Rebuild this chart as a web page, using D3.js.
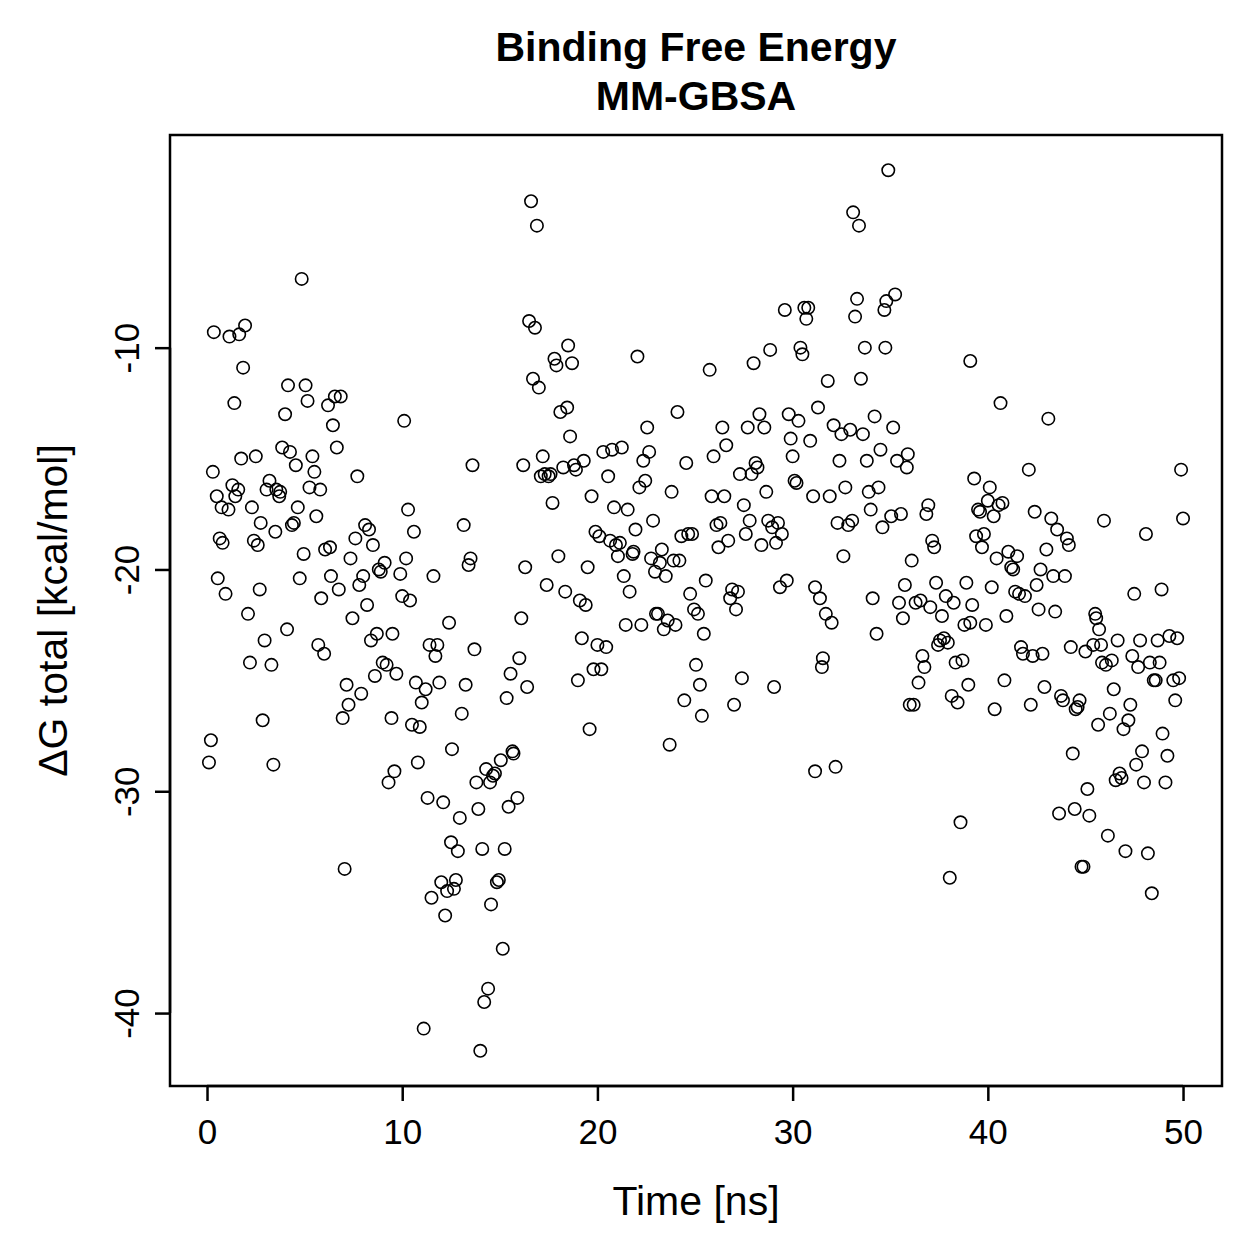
<!DOCTYPE html>
<html lang="en">
<head>
<meta charset="UTF-8">
<title>Binding Free Energy MM-GBSA</title>
<style>
  body { margin: 0; background: #fff; }
  text { font-family: "Liberation Sans", Arial, Helvetica, sans-serif; }
</style>
</head>
<body>
<div id="chart"></div>
<script src="https://d3js.org/d3.v7.min.js"></script>
<script>
// time [ns] and dG total [kcal/mol]
const timeNs = [
  0.1, 0.2, 0.3, 0.35, 0.5, 0.55, 0.65, 0.75, 0.8, 0.95,
  1.1, 1.15, 1.3, 1.4, 1.45, 1.6, 1.65, 1.75, 1.85, 1.95,
  2.1, 2.2, 2.3, 2.4, 2.5, 2.6, 2.7, 2.75, 2.85, 2.95,
  3.05, 3.2, 3.3, 3.4, 3.5, 3.55, 3.7, 3.75, 3.85, 4.0,
  4.1, 4.15, 4.25, 4.35, 4.45, 4.55, 4.65, 4.75, 4.85, 4.95,
  5.05, 5.15, 5.25, 5.4, 5.5, 5.6, 5.7, 5.8, 5.85, 6.0,
  6.05, 6.2, 6.3, 6.35, 6.45, 6.55, 6.65, 6.75, 6.85, 6.95,
  7.05, 7.15, 7.25, 7.35, 7.45, 7.6, 7.7, 7.8, 7.9, 8.0,
  8.1, 8.2, 8.3, 8.4, 8.5, 8.6, 8.7, 8.8, 8.9, 9.0,
  9.1, 9.2, 9.3, 9.45, 9.5, 9.6, 9.7, 9.9, 10.0, 10.1,
  10.2, 10.3, 10.4, 10.5, 10.6, 10.7, 10.8, 10.9, 11.0, 11.1,
  11.2, 11.3, 11.4, 11.5, 11.6, 11.7, 11.8, 11.9, 12.0, 12.1,
  12.2, 12.3, 12.4, 12.5, 12.55, 12.65, 12.75, 12.85, 12.95, 13.05,
  13.15, 13.25, 13.4, 13.5, 13.6, 13.7, 13.8, 13.9, 14.0, 14.1,
  14.2, 14.3, 14.4, 14.5, 14.55, 14.65, 14.75, 14.85, 14.95, 15.05,
  15.15, 15.25, 15.35, 15.45, 15.55, 15.65, 15.7, 15.9, 16.0, 16.1,
  16.2, 16.3, 16.4, 16.5, 16.6, 16.7, 16.8, 16.9, 17.0, 17.1,
  17.2, 17.3, 17.4, 17.5, 17.6, 17.7, 17.8, 17.9, 18.0, 18.1,
  18.25, 18.35, 18.45, 18.5, 18.6, 18.7, 18.8, 18.9, 19.0, 19.1,
  19.2, 19.3, 19.4, 19.5, 19.6, 19.7, 19.8, 19.9, 20.0, 20.1,
  20.2, 20.3, 20.45, 20.55, 20.65, 20.75, 20.85, 20.95, 21.05, 21.15,
  21.25, 21.35, 21.45, 21.55, 21.65, 21.8, 21.85, 21.95, 22.05, 22.15,
  22.25, 22.35, 22.45, 22.55, 22.65, 22.75, 22.85, 22.95, 23.0, 23.1,
  23.2, 23.3, 23.4, 23.5, 23.6, 23.7, 23.8, 23.9, 24.0, 24.1,
  24.2, 24.3, 24.45, 24.55, 24.65, 24.75, 24.85, 24.95, 25.05, 25.15,
  25.25, 25.35, 25.45, 25.55, 25.75, 25.85, 25.95, 26.1, 26.2, 26.3,
  26.4, 26.5, 26.6, 26.7, 26.8, 26.9, 27.0, 27.1, 27.2, 27.3,
  27.4, 27.5, 27.6, 27.7, 27.8, 27.9, 28.0, 28.1, 28.2, 28.3,
  28.4, 28.55, 28.65, 28.75, 28.85, 28.95, 29.05, 29.15, 29.25, 29.35,
  29.45, 29.6, 29.7, 29.8, 29.9, 30.0, 30.1, 30.2, 30.3, 30.4,
  30.5, 30.6, 30.7, 30.8, 30.9, 31.05, 31.15, 31.15, 31.3, 31.4,
  31.5, 31.55, 31.7, 31.8, 31.9, 32.0, 32.1, 32.2, 32.3, 32.4,
  32.5, 32.6, 32.7, 32.85, 32.95, 33.05, 33.1, 33.2, 33.3, 33.4,
  33.5, 33.6, 33.7, 33.8, 33.9, 34.0, 34.1, 34.2, 34.3, 34.4,
  34.5, 34.6, 34.7, 34.75, 34.8, 34.9, 35.05, 35.15, 35.25, 35.35,
  35.45, 35.55, 35.65, 35.75, 35.85, 35.9, 36.0, 36.1, 36.2, 36.3,
  36.45, 36.55, 36.65, 36.75, 36.85, 36.95, 37.05, 37.15, 37.25, 37.35,
  37.45, 37.55, 37.65, 37.75, 37.85, 37.95, 38.05, 38.15, 38.25, 38.35,
  38.45, 38.6, 38.7, 38.8, 38.9, 39.0, 39.1, 39.2, 39.1, 39.3,
  39.4, 39.5, 39.6, 39.7, 39.8, 39.9, 40.0, 40.1, 40.2, 40.3,
  40.35, 40.45, 40.55, 40.65, 40.75, 40.85, 40.95, 41.05, 41.2, 41.3,
  41.4, 41.5, 41.6, 41.7, 41.8, 41.9, 42.1, 42.2, 42.3, 42.4,
  42.5, 42.6, 42.7, 42.8, 42.9, 43.0, 43.1, 43.25, 43.35, 43.45,
  43.55, 43.65, 43.75, 43.85, 43.95, 44.05, 44.15, 44.25, 44.35, 44.45,
  44.5, 44.6, 44.7, 44.8, 44.9, 45.0, 45.1, 45.2, 45.4, 45.5,
  45.55, 45.65, 45.7, 45.8, 45.85, 45.95, 46.05, 46.15, 46.25, 46.35,
  46.45, 46.55, 46.65, 46.75, 46.85, 46.95, 47.05, 47.2, 47.3, 47.4,
  47.5, 47.6, 47.7, 47.8, 47.9, 48.0, 48.1, 48.2, 48.3, 48.4,
  48.5, 48.6, 48.7, 48.8, 48.9, 48.95, 49.1, 49.2, 49.3, 49.5,
  49.6, 49.7, 49.8, 49.9, 50.0
];
const dGTotal = [
  -28.7, -27.7, -15.6, -9.3, -16.7, -20.4, -18.6, -17.2, -18.8, -21.1,
  -17.3, -9.5, -16.2, -12.5, -16.7, -16.4, -9.4, -15.0, -10.9, -9.0,
  -22.0, -24.2, -17.2, -18.7, -14.9, -18.9, -20.9, -17.9, -26.8, -23.2,
  -16.4, -16.0, -24.3, -28.8, -18.3, -16.4, -16.7, -16.5, -14.5, -13.0,
  -22.7, -11.7, -14.7, -18.0, -17.9, -15.3, -17.2, -20.4, -6.9, -19.3,
  -11.7, -12.4, -16.3, -14.9, -15.6, -17.6, -23.4, -16.4, -21.3, -23.8,
  -19.1, -12.6, -19.0, -20.3, -13.5, -12.2, -14.5, -20.9, -12.2, -26.7,
  -33.5, -25.2, -26.1, -19.5, -22.2, -18.6, -15.8, -20.7, -25.6, -20.3,
  -18.0, -21.6, -18.2, -23.2, -18.9, -24.8, -22.9, -20.0, -20.1, -24.2,
  -19.7, -24.3, -29.6, -26.7, -22.9, -29.1, -24.7, -20.2, -21.2, -13.3,
  -19.5, -17.3, -21.4, -27.0, -18.3, -25.1, -28.7, -27.1, -26.0, -40.7,
  -25.4, -30.3, -23.4, -34.8, -20.3, -23.9, -23.4, -25.1, -34.1, -30.5,
  -35.6, -34.5, -22.4, -32.3, -28.1, -34.4, -34.0, -32.7, -31.2, -26.5,
  -18.0, -25.2, -19.8, -19.5, -15.3, -23.6, -29.6, -30.8, -41.7, -32.6,
  -39.5, -29.0, -38.9, -29.6, -35.1, -29.3, -29.2, -34.1, -34.0, -28.6,
  -37.1, -32.6, -25.8, -30.7, -24.7, -28.2, -28.3, -30.3, -24.0, -22.2,
  -15.3, -19.9, -25.3, -8.8, -3.4, -11.4, -9.1, -4.5, -11.8, -15.8,
  -14.9, -15.7, -20.7, -15.8, -15.7, -17.0, -10.5, -10.8, -19.4, -12.9,
  -15.4, -21.0, -12.7, -9.9, -14.0, -10.7, -15.3, -15.5, -25.0, -21.4,
  -23.1, -15.1, -21.6, -19.9, -27.2, -16.7, -24.5, -18.3, -23.4, -18.5,
  -24.5, -14.7, -23.5, -15.8, -18.7, -14.6, -17.2, -18.9, -19.4, -18.8,
  -14.5, -20.3, -22.5, -17.3, -21.0, -19.3, -19.2, -18.2, -10.4, -16.3,
  -22.5, -15.1, -16.0, -13.6, -14.7, -19.5, -17.8, -20.1, -22.0, -22.0,
  -19.7, -19.1, -22.7, -20.3, -22.3, -27.9, -16.5, -19.6, -22.5, -12.9,
  -19.6, -18.5, -25.9, -15.2, -18.4, -21.1, -18.4, -21.8, -24.3, -22.0,
  -25.2, -26.6, -22.9, -20.5, -11.0, -16.7, -14.9, -18.0, -19.0, -17.9,
  -13.6, -16.7, -14.4, -18.7, -21.3, -20.9, -26.1, -21.8, -21.0, -15.7,
  -24.9, -17.1, -18.4, -13.6, -17.8, -15.7, -10.7, -15.2, -15.4, -13.0,
  -18.9, -13.6, -16.5, -17.8, -10.1, -18.1, -25.3, -18.8, -17.9, -20.8,
  -18.4, -8.3, -20.5, -13.0, -14.1, -14.9, -16.0, -16.1, -13.3, -10.0,
  -10.3, -8.2, -8.7, -8.2, -14.2, -16.7, -29.1, -20.8, -12.7, -21.3,
  -24.4, -24.0, -22.0, -11.5, -16.7, -22.4, -13.5, -28.9, -17.9, -15.1,
  -13.9, -19.4, -16.3, -18.0, -13.7, -17.8, -3.9, -8.6, -7.8, -4.5,
  -11.4, -13.9, -10.0, -15.1, -16.5, -17.3, -21.3, -13.1, -22.9, -16.3,
  -14.6, -18.1, -8.3, -10.0, -7.9, -2.0, -17.6, -13.6, -7.6, -15.1,
  -21.5, -17.5, -22.2, -20.7, -15.4, -14.8, -26.1, -19.6, -26.1, -21.5,
  -25.1, -21.4, -23.9, -24.4, -17.5, -17.1, -21.7, -18.7, -19.0, -20.6,
  -23.4, -23.2, -22.1, -23.1, -21.2, -23.3, -33.9, -25.7, -21.5, -24.2,
  -26.0, -31.4, -24.1, -22.5, -20.6, -25.2, -22.4, -21.6, -10.6, -15.9,
  -18.5, -17.3, -17.4, -19.0, -18.4, -22.5, -16.9, -16.3, -20.8, -17.6,
  -26.3, -19.5, -17.1, -12.5, -17.0, -25.0, -22.1, -19.2, -19.9, -20.0,
  -21.0, -19.4, -21.1, -23.5, -23.8, -21.2, -15.5, -26.1, -23.9, -17.4,
  -20.7, -21.8, -20.0, -23.8, -25.3, -19.1, -13.2, -17.7, -20.3, -21.9,
  -18.2, -31.0, -25.7, -25.9, -20.3, -18.6, -18.9, -23.5, -28.3, -30.8,
  -26.3, -26.2, -25.9, -33.4, -33.4, -23.7, -29.9, -31.1, -23.4, -22.0,
  -22.2, -27.0, -22.7, -23.4, -24.2, -17.8, -24.3, -32.0, -26.5, -24.1,
  -25.4, -29.5, -23.2, -29.2, -29.4, -27.2, -32.7, -26.8, -26.1, -23.9,
  -21.1, -28.8, -24.4, -23.2, -28.2, -29.6, -18.4, -32.8, -24.2, -34.6,
  -25.0, -25.0, -23.2, -24.2, -20.9, -27.4, -29.6, -28.4, -23.0, -25.0,
  -25.9, -23.1, -24.9, -15.5, -17.7
];
const xTicks = [0, 10, 20, 30, 40, 50];
const yTicks = [-10, -20, -30, -40];

const W = 1259, H = 1259;
const box = { left: 170, right: 1222, top: 135, bottom: 1086 };

const svg = d3.select("#chart").append("svg")
    .attr("width", W)
    .attr("height", H)
    .style("background", "#fff");

// R style 4% padding on the data range
function pad(ext) {
    const d = (ext[1] - ext[0]) * 0.04;
    return [ext[0] - d, ext[1] + d];
}

const x = d3.scaleLinear()
    .domain(pad(d3.extent(timeNs)))
    .range([box.left, box.right]);

const y = d3.scaleLinear()
    .domain(pad(d3.extent(dGTotal)))
    .range([box.bottom, box.top]);

const points = timeNs.map((t, i) => ({ t: t, g: dGTotal[i] }));

svg.append("g")
    .selectAll("circle")
    .data(points)
    .enter().append("circle")
    .attr("cx", d => x(d.t))
    .attr("cy", d => y(d.g))
    .attr("r", 6.2)
    .attr("fill", "none")
    .attr("stroke", "#000")
    .attr("stroke-width", 1.6);

// box
svg.append("rect")
    .attr("x", box.left)
    .attr("y", box.top)
    .attr("width", box.right - box.left)
    .attr("height", box.bottom - box.top)
    .attr("fill", "none")
    .attr("stroke", "#000")
    .attr("stroke-width", 2.5);

// axes
const xAxis = svg.append("g")
    .attr("transform", `translate(0,${box.bottom})`)
    .call(d3.axisBottom(x).tickValues(xTicks).tickSize(15).tickPadding(18).tickFormat(d3.format("d")));

const yAxis = svg.append("g")
    .attr("transform", `translate(${box.left},0)`)
    .call(d3.axisLeft(y).tickValues(yTicks).tickSize(15).tickFormat(d => d));

[xAxis, yAxis].forEach(a => {
    a.select(".domain").remove();
    a.selectAll(".tick line").attr("stroke", "#000").attr("stroke-width", 2.5);
    a.selectAll("text").attr("font-size", 35).attr("fill", "#000")
        .style("font-family", "'Liberation Sans', Arial, sans-serif");
});

// axis lines span first to last tick, like R
xAxis.append("line")
    .attr("x1", x(xTicks[0])).attr("x2", x(xTicks[xTicks.length - 1]))
    .attr("stroke", "#000").attr("stroke-width", 2.5);
yAxis.append("line")
    .attr("y1", y(yTicks[0])).attr("y2", y(yTicks[yTicks.length - 1]))
    .attr("stroke", "#000").attr("stroke-width", 2.5);

// rotated y tick labels
yAxis.selectAll(".tick text")
    .attr("x", null).attr("dy", null)
    .attr("text-anchor", "middle")
    .attr("transform", "translate(-31,0) rotate(-90)");

// titles
svg.append("text")
    .attr("x", (box.left + box.right) / 2)
    .attr("y", 61)
    .attr("text-anchor", "middle")
    .attr("font-size", 41)
    .attr("font-weight", "bold")
    .text("Binding Free Energy");

svg.append("text")
    .attr("x", (box.left + box.right) / 2)
    .attr("y", 110)
    .attr("text-anchor", "middle")
    .attr("font-size", 41)
    .attr("font-weight", "bold")
    .text("MM-GBSA");

svg.append("text")
    .attr("x", (box.left + box.right) / 2)
    .attr("y", 1215)
    .attr("text-anchor", "middle")
    .attr("font-size", 41)
    .text("Time [ns]");

svg.append("text")
    .attr("transform", `translate(67,${(box.top + box.bottom) / 2}) rotate(-90)`)
    .attr("text-anchor", "middle")
    .attr("font-size", 41)
    .text("ΔG total [kcal/mol]");
</script>
</body>
</html>
